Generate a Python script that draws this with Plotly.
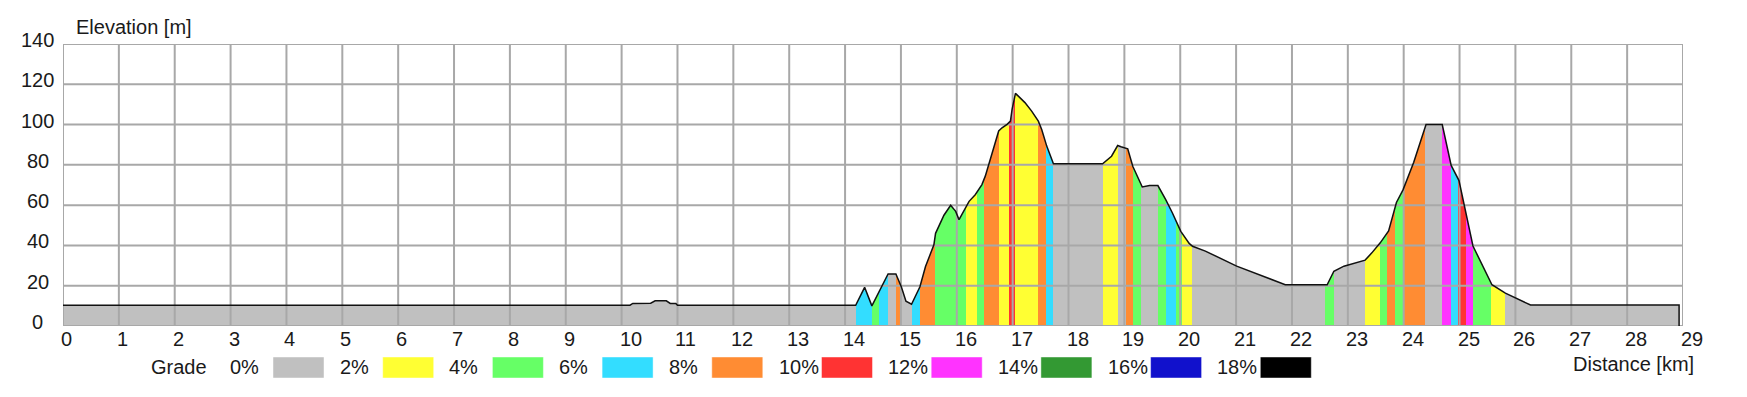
import plotly.graph_objects as go
import numpy as np

# ---------------- data ----------------
profile_km = [0.0, 10.15, 10.2, 10.52, 10.6, 10.8, 10.87, 10.97, 11.0,
              14.19, 14.35, 14.48, 14.77, 14.91, 15.01, 15.09, 15.19, 15.34,
              15.44, 15.59, 15.62, 15.77, 15.89, 15.98, 16.04, 16.10, 16.22,
              16.33, 16.45, 16.51, 16.60, 16.75, 16.81, 16.90, 16.96, 16.99,
              17.05, 17.22, 17.34, 17.46, 17.52, 17.61, 17.73, 18.61, 18.77,
              18.88, 18.94, 19.06, 19.15, 19.24, 19.32, 19.45, 19.60, 19.74,
              19.86, 20.01, 20.16, 20.22, 20.45, 21.01, 21.88, 22.63, 22.75,
              22.93, 23.31, 23.43, 23.58, 23.73, 23.87, 23.99, 24.18, 24.40,
              24.69, 24.85, 24.99, 25.24, 25.58, 25.82, 26.27, 28.93]
profile_m = [10.3, 10.3, 11.2, 11.3, 12.5, 12.5, 11.2, 11.2, 10.3,
             10.3, 19.2, 10.0, 25.8, 25.8, 19.2, 12.3, 10.8, 19.5,
             29.5, 40.3, 46.0, 55.0, 59.9, 56.9, 52.8, 55.8, 61.9,
             65.2, 70.2, 74.4, 82.7, 96.8, 98.4, 100.1, 101.7, 107.5,
             115.5, 110.9, 106.7, 101.7, 97.6, 89.3, 80.5, 80.5, 84.3,
             89.6, 89.0, 88.0, 79.3, 73.5, 69.0, 69.7, 69.7, 62.7,
             56.1, 47.0, 41.0, 39.6, 37.2, 29.7, 20.5, 20.5, 27.2,
             29.7, 32.7, 36.3, 41.3, 47.2, 61.3, 67.7, 81.3, 100.0,
             100.0, 79.7, 72.2, 39.7, 20.5, 16.3, 10.4, 10.4]

# grade bands: edges (km) and grade class index per band
band_edges = [0.0, 14.19, 14.48, 14.61, 14.77, 14.91, 14.99, 15.20, 15.34,
              15.61, 16.17, 16.36, 16.49, 16.76, 16.93, 17.05, 17.45, 17.59,
              17.73, 18.61, 18.88, 19.02, 19.15, 19.29, 19.60, 19.74, 19.92,
              20.03, 20.21, 22.60, 22.75, 23.31, 23.58, 23.71, 23.85, 23.99,
              24.39, 24.69, 24.84, 24.97, 25.11, 25.24, 25.57, 25.81, 28.93]
band_grade = [0, 3, 2, 3, 0, 4, 0, 3,
              4, 2, 1, 2, 4, 1, 5, 1, 4,
              3, 0, 1, 0, 4, 2, 0, 2, 3,
              2, 1, 0, 2, 0, 1, 2, 4, 2,
              4, 0, 6, 3, 5, 6, 2, 1, 0]

grade_labels = ["0%", "2%", "4%", "6%", "8%", "10%", "12%", "14%", "16%", "18%"]
grade_colors = ["#C0C0C0", "#FFFF33", "#66FF66", "#33DDFF", "#FF8C33",
                "#FF3333", "#FF33FF", "#339933", "#1111CC", "#000000"]

x_ticks = list(range(0, 30))
y_ticks = [0, 20, 40, 60, 80, 100, 120, 140]
x_title = "Distance [km]"
y_title = "Elevation [m]"
legend_title = "Grade"

# ---------------- layout constants ----------------
# the page body has an 8px default margin, so the figure is drawn 8px
# smaller and the margins are reduced accordingly
OFF = 8
W, H = 1747 - OFF, 397 - OFF
PLOT_L, PLOT_R, PLOT_T, PLOT_B = 63, 1683, 44, 326   # page pixels
L, T = PLOT_L - OFF, PLOT_T - OFF
R = (W + OFF) - PLOT_R
B = (H + OFF) - PLOT_B
PW, PH = PLOT_R - PLOT_L, PLOT_B - PLOT_T
X_MAX, Y_MAX = 29, 140
FONT = "Liberation Sans, Arial, sans-serif"
FS = 20
TXT = "#1a1a1a"
GRID = "#A8A8A8"


def px_x(p):
    return (p - PLOT_L) / PW


def px_y(p):
    return (PLOT_B - p) / PH


fig = go.Figure()

# coloured grade bands
edges = np.array(band_edges)
mids = (edges[:-1] + edges[1:]) / 2
widths = np.diff(edges)
fig.add_trace(go.Bar(
    x=mids, y=[Y_MAX] * len(mids), width=widths,
    marker=dict(color=[grade_colors[g] for g in band_grade], line=dict(width=0)),
    hoverinfo="skip", showlegend=False))

# white mask above the profile
mask_x = [profile_km[0]] + profile_km + [profile_km[-1], profile_km[0]]
mask_y = [Y_MAX] + profile_m + [Y_MAX, Y_MAX]
fig.add_trace(go.Scatter(
    x=mask_x, y=mask_y, fill="toself", fillcolor="white", mode="lines",
    line=dict(width=0, color="white"), hoverinfo="skip", showlegend=False))

# grid lines (drawn above fills, as in the original)
gx, gy = [], []
for t in x_ticks:
    gx += [t, t, None]
    gy += [0, Y_MAX, None]
for t in y_ticks:
    gx += [0, X_MAX, None]
    gy += [t, t, None]
fig.add_trace(go.Scatter(
    x=gx, y=gy, mode="lines", line=dict(color=GRID, width=2),
    hoverinfo="skip", showlegend=False, cliponaxis=False))

# profile outline
fig.add_trace(go.Scatter(
    x=profile_km + [profile_km[-1]], y=profile_m + [0], mode="lines",
    line=dict(color="#111111", width=1.5), hoverinfo="skip",
    showlegend=False, cliponaxis=False))

annotations = []
# x tick labels (left-aligned at the tick, as in the original)
for t in x_ticks:
    annotations.append(dict(x=t, y=0, xref="x", yref="paper", text=str(t),
                            showarrow=False, xanchor="left", yanchor="middle",
                            xshift=-4, yshift=-13,
                            font=dict(family=FONT, size=FS, color=TXT)))
# y tick labels (centred in the left margin)
for t in y_ticks:
    annotations.append(dict(x=0, y=t, xref="paper", yref="y", text=str(t),
                            showarrow=False, xanchor="center", yanchor="middle",
                            xshift=-25.5, yshift=4,
                            font=dict(family=FONT, size=FS, color=TXT)))
# axis titles
annotations.append(dict(x=0, y=1, xref="paper", yref="paper", text=y_title,
                        showarrow=False, xanchor="left", yanchor="middle",
                        xshift=11, yshift=17,
                        font=dict(family=FONT, size=FS, color=TXT)))
annotations.append(dict(x=1, y=0, xref="paper", yref="paper", text=x_title,
                        showarrow=False, xanchor="right", yanchor="middle",
                        xshift=13, yshift=-38,
                        font=dict(family=FONT, size=FS, color=TXT)))

# grade legend
shapes = []
LEG_Y = 367
annotations.append(dict(x=px_x(149), y=px_y(LEG_Y), xref="paper", yref="paper",
                        text=legend_title, showarrow=False, xanchor="left",
                        yanchor="middle",
                        font=dict(family=FONT, size=FS, color=TXT)))
for i, (lab, col) in enumerate(zip(grade_labels, grade_colors)):
    bx = 273 + i * 109.7
    annotations.append(dict(x=px_x(bx - 45), y=px_y(LEG_Y), xref="paper",
                            yref="paper", text=lab, showarrow=False,
                            xanchor="left", yanchor="middle",
                            font=dict(family=FONT, size=FS, color=TXT)))
    shapes.append(dict(type="rect", xref="paper", yref="paper",
                       x0=px_x(bx), x1=px_x(bx + 51),
                       y0=px_y(357), y1=px_y(378),
                       fillcolor=col, line=dict(color="rgba(255,255,255,0.45)", width=1)))

fig.update_layout(
    width=W, height=H,
    margin=dict(l=L, r=R, t=T, b=B, pad=0, autoexpand=False),
    paper_bgcolor="white", plot_bgcolor="white",
    showlegend=False, bargap=0,
    xaxis=dict(range=[0, X_MAX], showgrid=False, zeroline=False,
               showticklabels=False, showline=False, ticks="", fixedrange=True),
    yaxis=dict(range=[0, Y_MAX], showgrid=False, zeroline=False,
               showticklabels=False, showline=False, ticks="", fixedrange=True),
    annotations=annotations, shapes=shapes,
    font=dict(family=FONT, size=FS, color=TXT),
)

fig.write_html("out.html")
